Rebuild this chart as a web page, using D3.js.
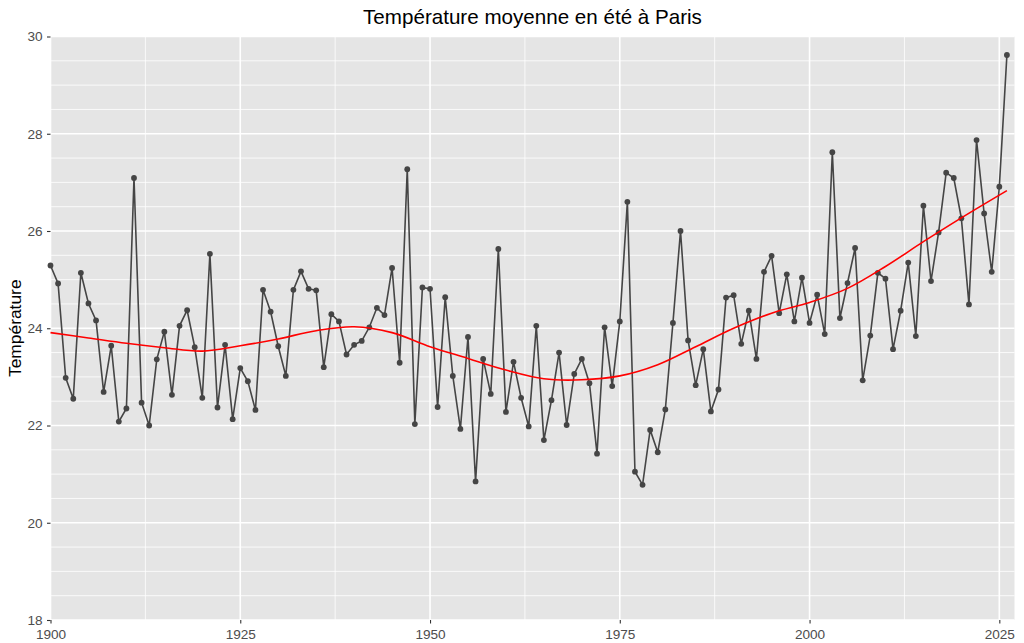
<!DOCTYPE html>
<html>
<head>
<meta charset="utf-8">
<script src="https://cdn.jsdelivr.net/npm/d3@7"></script>
<style>
  body { margin: 0; background: #fff; }
  svg { font-family: "Liberation Sans", Arial, sans-serif; }
  .tick text { fill: #4d4d4d; font-size: 13.6px; }
</style>
</head>
<body>
<div class="chart"></div>
<script>
var svgWidth = 1024;
var svgHeight = 643;

// years and summer mean temperatures
var firstYear = 1900;
var temps = [
  25.29, 24.92, 22.98, 22.55, 25.14, 24.51, 24.16, 22.69, 23.64, 22.08,
  22.35, 27.09, 22.47, 22.00, 23.36, 23.93, 22.63, 24.05, 24.37, 23.61,
  22.57, 25.53, 22.37, 23.66, 22.13, 23.18, 22.91, 22.32, 24.79, 24.34,
  23.63, 23.02, 24.79, 25.17, 24.81, 24.78, 23.20, 24.29, 24.14, 23.46,
  23.66, 23.74, 24.02, 24.42, 24.27, 25.24, 23.29, 27.27, 22.03, 24.84,
  24.81, 22.38, 24.64, 23.02, 21.93, 23.82, 20.85, 23.37, 22.65, 25.63,
  22.28, 23.31, 22.57, 21.98, 24.05, 21.70, 22.52, 23.50, 22.01, 23.06,
  23.37, 22.87, 21.42, 24.02, 22.81, 24.14, 26.60, 21.05, 20.78, 21.91,
  21.45, 22.33, 24.11, 26.00, 23.75, 22.83, 23.57, 22.29, 22.74, 24.63,
  24.68, 23.68, 24.36, 23.37, 25.16, 25.49, 24.31, 25.11, 24.14, 25.04,
  24.11, 24.69, 23.88, 27.62, 24.21, 24.93, 25.65, 22.93, 23.85, 25.14,
  25.02, 23.57, 24.36, 25.35, 23.84, 26.52, 24.97, 25.97, 27.20, 27.09,
  26.26, 24.49, 27.87, 26.36, 25.16, 26.91, 29.62
];

// smooth trend (red curve), read at a few years
var smoothYears = [1900, 1905, 1910, 1915, 1920, 1925, 1930, 1935, 1940, 1945, 1950, 1955,
  1960, 1965, 1970, 1975, 1980, 1985, 1990, 1995, 2000, 2005, 2010, 2015, 2020, 2026];
var smoothTemps = [23.91, 23.80, 23.69, 23.60, 23.53, 23.64, 23.78, 23.95, 24.03, 23.91, 23.62, 23.38,
  23.14, 22.96, 22.94, 23.02, 23.25, 23.62, 24.00, 24.31, 24.53, 24.82, 25.27, 25.78, 26.27, 26.83];

var xTicks = [1900, 1925, 1950, 1975, 2000, 2025];
var xMinor = [1912.5, 1937.5, 1962.5, 1987.5, 2012.5];
var yTicks = [18, 20, 22, 24, 26, 28, 30];

var data = temps.map(function(t, i) { return { year: firstYear + i, temp: t }; });
var smooth = smoothYears.map(function(y, i) { return { year: y, temp: smoothTemps[i] }; });

var panel = { left: 50.5, right: 1014.5, top: 36.5, bottom: 620 };

var svg = d3.select(".chart")
  .append("svg")
  .attr("width", svgWidth)
  .attr("height", svgHeight);

var x = d3.scaleLinear().domain([1900, 2027]).range([panel.left, panel.right]);
var y = d3.scaleLinear().domain([18, 30]).range([panel.bottom, panel.top]);

// grey panel
svg.append("rect")
  .attr("x", panel.left)
  .attr("y", panel.top)
  .attr("width", panel.right - panel.left)
  .attr("height", panel.bottom - panel.top)
  .attr("fill", "#e5e5e5");

// minor grid
var yMinor = d3.range(18.5, 30, 0.5).filter(function(v) { return v % 2 !== 0; });
svg.append("g").selectAll("line")
  .data(yMinor)
  .enter()
  .append("line")
  .attr("x1", panel.left).attr("x2", panel.right)
  .attr("y1", d => y(d)).attr("y2", d => y(d))
  .attr("stroke", "#fff").attr("stroke-width", 0.8);

svg.append("g").selectAll("line")
  .data(xMinor)
  .enter()
  .append("line")
  .attr("y1", panel.top).attr("y2", panel.bottom)
  .attr("x1", d => x(d)).attr("x2", d => x(d))
  .attr("stroke", "#fff").attr("stroke-width", 0.8);

// major grid
svg.append("g").selectAll("line")
  .data(yTicks)
  .enter()
  .append("line")
  .attr("x1", panel.left).attr("x2", panel.right)
  .attr("y1", d => y(d)).attr("y2", d => y(d))
  .attr("stroke", "#fff").attr("stroke-width", 1.6);

svg.append("g").selectAll("line")
  .data(xTicks)
  .enter()
  .append("line")
  .attr("y1", panel.top).attr("y2", panel.bottom)
  .attr("x1", d => x(d)).attr("x2", d => x(d))
  .attr("stroke", "#fff").attr("stroke-width", 1.6);

// axes
var bottomAxis = d3.axisBottom(x).tickValues(xTicks).tickFormat(d3.format("d")).tickSize(3.5).tickPadding(5.5);
var leftAxis = d3.axisLeft(y).tickValues(yTicks).tickSize(3.5).tickPadding(4.5);

var xAxis = svg.append("g")
  .attr("transform", `translate(0, ${panel.bottom})`)
  .call(bottomAxis);
var yAxis = svg.append("g")
  .attr("transform", `translate(${panel.left}, 0)`)
  .call(leftAxis);

[xAxis, yAxis].forEach(function(a) {
  a.select(".domain").remove();
  a.selectAll(".tick line").attr("stroke", "#333").attr("stroke-width", 1.1);
});

// data line + points
var line = d3.line().x(d => x(d.year)).y(d => y(d.temp));

svg.append("path")
  .datum(data)
  .attr("d", line)
  .attr("fill", "none")
  .attr("stroke", "#454545")
  .attr("stroke-width", 1.6);

svg.append("g").selectAll("circle")
  .data(data)
  .enter()
  .append("circle")
  .attr("cx", d => x(d.year))
  .attr("cy", d => y(d.temp))
  .attr("r", 2.9)
  .attr("fill", "#454545");

// smooth trend
svg.append("path")
  .datum(smooth)
  .attr("d", d3.line().curve(d3.curveCatmullRom).x(d => x(d.year)).y(d => y(d.temp)))
  .attr("fill", "none")
  .attr("stroke", "#ff0000")
  .attr("stroke-width", 1.6);

// titles
svg.append("text")
  .attr("x", (panel.left + panel.right) / 2)
  .attr("y", 24)
  .attr("text-anchor", "middle")
  .attr("font-size", "20.6px")
  .attr("fill", "#000")
  .text("Température moyenne en été à Paris");

svg.append("text")
  .attr("transform", `translate(20.5, ${(panel.top + panel.bottom) / 2}) rotate(-90)`)
  .attr("text-anchor", "middle")
  .attr("font-size", "17.4px")
  .attr("fill", "#000")
  .text("Température");
</script>
</body>
</html>
